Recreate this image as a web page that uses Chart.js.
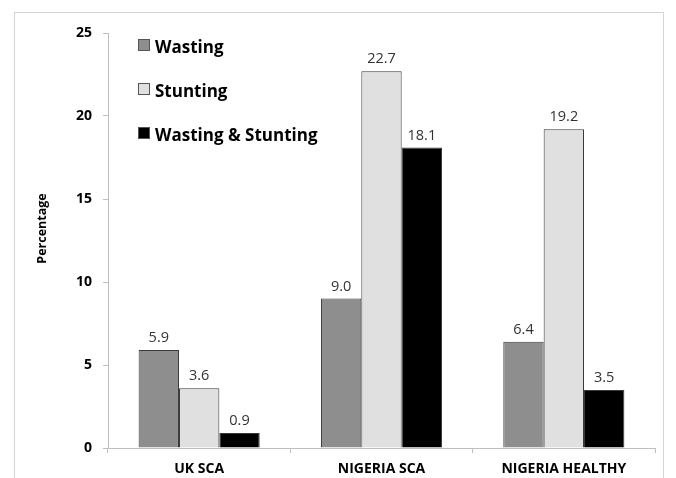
<!DOCTYPE html>
<html>
<head>
<meta charset="utf-8">
<script src="https://cdn.jsdelivr.net/npm/chart.js@4/dist/chart.umd.min.js"></script>
<style>
  html, body { margin: 0; padding: 0; background: #fff; overflow: hidden; }
  #wrap { position: relative; width: 676px; height: 478px; }
  #frame { position: absolute; left: 14px; top: 12px; width: 650px; height: 480px;
           border: 1px solid #d4d4d4; box-sizing: border-box; pointer-events: none; }
  canvas { position: absolute; left: 0; top: 0; }
</style>
</head>
<body>
<div id="wrap">
  <div id="frame"></div>
  <canvas id="c" width="676" height="478"></canvas>
</div>
<script>
const categories = ['UK SCA', 'NIGERIA SCA', 'NIGERIA HEALTHY'];
const seriesNames = ['Wasting', 'Stunting', 'Wasting & Stunting'];
const wasting = [5.9, 9.0, 6.4];
const stunting = [3.6, 22.7, 19.2];
const wastingStunting = [0.9, 18.1, 3.5];
const yTicks = [0, 5, 10, 15, 20, 25];
const yTitle = 'Percentage';

const fillColors = ['#8e8e8e', '#e0e0e0', '#000000'];
const FONT = '"Open Sans", Lato, "DejaVu Sans", sans-serif';

// Value labels above each bar
const valueLabels = {
  id: 'valueLabels',
  afterDatasetsDraw(chart) {
    const ctx = chart.ctx;
    ctx.save();
    ctx.font = '14.5px ' + FONT;
    ctx.fillStyle = '#333333';
    ctx.textAlign = 'center';
    ctx.textBaseline = 'alphabetic';
    chart.data.datasets.forEach((ds, i) => {
      chart.getDatasetMeta(i).data.forEach((el, j) => {
        ctx.fillText(ds.data[j].toFixed(1), el.x, el.y - 8);
      });
    });
    ctx.restore();
  }
};

// Legend stacked inside the plot, top-left
const innerLegend = {
  id: 'innerLegend',
  afterDraw(chart) {
    const ctx = chart.ctx;
    const a = chart.chartArea;
    ctx.save();
    ctx.font = 'bold 17px ' + FONT;
    ctx.textBaseline = 'alphabetic';
    ctx.textAlign = 'left';
    chart.data.datasets.forEach((ds, i) => {
      const cy = a.top + 12 + i * 44;
      const sx = a.left + 30;
      ctx.fillStyle = ds.backgroundColor;
      ctx.fillRect(sx, cy - 6, 12, 12);
      ctx.strokeStyle = '#555555';
      ctx.lineWidth = 1;
      ctx.strokeRect(sx + 0.5, cy - 5.5, 11, 11);
      ctx.fillStyle = '#000000';
      ctx.fillText(ds.label, sx + 17, cy + 8);
    });
    ctx.restore();
  }
};

// Rotated y-axis title, sitting slightly above the plot's middle
const yAxisTitle = {
  id: 'yAxisTitle',
  afterDraw(chart) {
    const ctx = chart.ctx;
    const a = chart.chartArea;
    ctx.save();
    ctx.translate(42, (a.top + a.bottom) / 2 - 12);
    ctx.rotate(-Math.PI / 2);
    ctx.font = 'bold 12.5px ' + FONT;
    ctx.fillStyle = '#000';
    ctx.textAlign = 'center';
    ctx.textBaseline = 'middle';
    ctx.fillText(yTitle, 0, 0);
    ctx.restore();
  }
};

const dataSets = [wasting, stunting, wastingStunting].map((vals, i) => ({
  label: seriesNames[i],
  data: vals,
  backgroundColor: fillColors[i],
  borderColor: '#3a3a3a',
  borderWidth: 1,
  borderSkipped: 'bottom',
  categoryPercentage: 0.664,
  barPercentage: 1.0
}));

new Chart(document.getElementById('c'), {
  type: 'bar',
  data: { labels: categories, datasets: dataSets },
  plugins: [valueLabels, innerLegend, yAxisTitle],
  options: {
    responsive: false,
    animation: false,
    layout: { padding: { left: 0, top: 33, right: 21, bottom: 0 } },
    plugins: { legend: { display: false }, tooltip: { enabled: false } },
    scales: {
      x: {
        offset: true,
        afterFit(s) { s.height = 30; },
        grid: { offset: true, drawOnChartArea: false, drawTicks: true, tickLength: 5, color: '#bfbfbf' },
        border: { display: true, color: '#bfbfbf', width: 1 },
        ticks: { color: '#000', font: { family: FONT, size: 14, weight: 'bold' }, padding: 8, maxRotation: 0 }
      },
      y: {
        min: 0, max: 25,
        afterFit(s) { s.width = 108; },
        afterBuildTicks(s) { s.ticks = yTicks.map(v => ({ value: v })); },
        grid: { drawOnChartArea: false, drawTicks: true, tickLength: 5, color: '#bfbfbf' },
        border: { display: true, color: '#bfbfbf', width: 1 },
        ticks: { color: '#000', font: { family: FONT, size: 14, weight: 'bold' }, padding: 11 }
      }
    }
  }
});
</script>
</body>
</html>
